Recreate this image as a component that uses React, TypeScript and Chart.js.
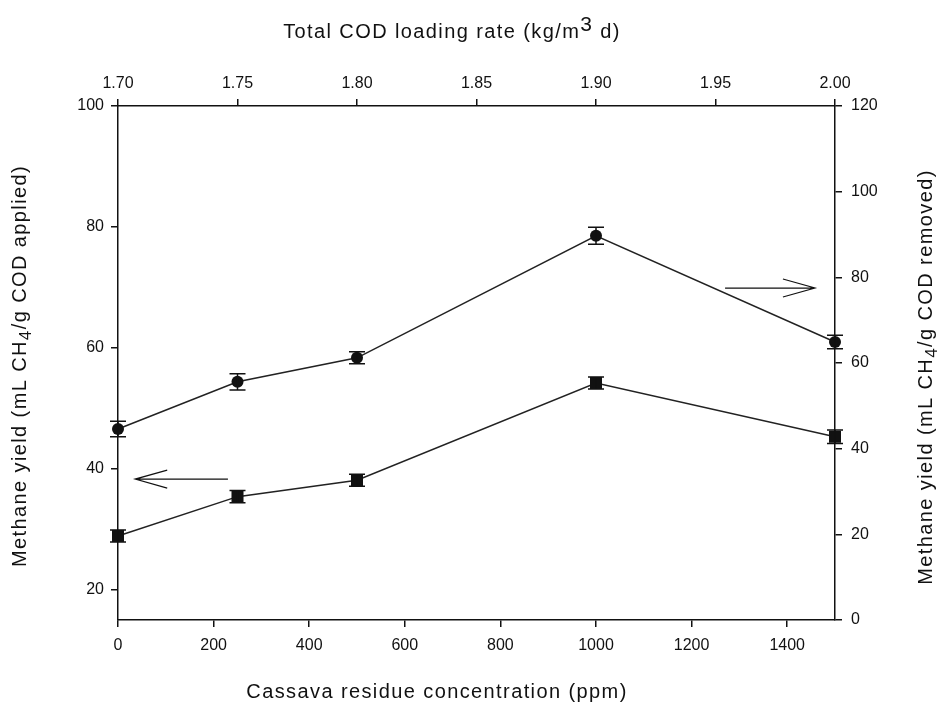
import React, { useEffect, useRef } from "react";
import { Chart, registerables } from "chart.js";

Chart.register(...registerables);

// ---- data ----
const concentrations = [0, 250, 500, 1000, 1500];
// lower series (squares) – left axis, mL CH4/g COD applied
const yieldApplied = [28.9, 35.4, 38.1, 54.2, 45.3];
const yieldAppliedErr = [1.0, 1.0, 1.0, 1.0, 1.1];
// upper series (circles) – right axis, mL CH4/g COD removed
const yieldRemoved = [44.6, 55.6, 61.2, 89.7, 64.9];
const yieldRemovedErr = [1.8, 1.9, 1.4, 2.0, 1.6];

const bottomTicks = [0, 200, 400, 600, 800, 1000, 1200, 1400];
const topTicks = [1.7, 1.75, 1.8, 1.85, 1.9, 1.95, 2.0];
const leftTicks = [20, 40, 60, 80, 100];
const rightTicks = [0, 20, 40, 60, 80, 100, 120];

// arrows (in data units): [x from, x to, y] and the axis they refer to
const leftArrow = { from: 230, to: 36, y: 38.3 };
const rightArrow = { from: 1270, to: 1458, y: 77.5 };

const FONT = "'Liberation Sans', Arial, sans-serif";
const INK = "#111";

type Seg = { t: string; shift?: number; scale?: number };

function drawRich(
  ctx: CanvasRenderingContext2D,
  segs: Seg[],
  cx: number,
  cy: number,
  rot: number,
  size: number,
  spacing: number
) {
  ctx.save();
  ctx.translate(cx, cy);
  ctx.rotate(rot);
  ctx.fillStyle = INK;
  ctx.textBaseline = "middle";
  ctx.textAlign = "left";
  (ctx as any).letterSpacing = `${spacing}px`;
  let total = 0;
  const widths: number[] = [];
  for (const s of segs) {
    ctx.font = `${Math.round(size * (s.scale ?? 1))}px ${FONT}`;
    const w = ctx.measureText(s.t).width;
    widths.push(w);
    total += w;
  }
  let x = -total / 2;
  segs.forEach((s, i) => {
    ctx.font = `${Math.round(size * (s.scale ?? 1))}px ${FONT}`;
    ctx.fillText(s.t, x, (s.shift ?? 0) * size);
    x += widths[i];
  });
  ctx.restore();
}

const extrasPlugin = {
  id: "extras",
  afterDatasetsDraw(chart: any) {
    const ctx: CanvasRenderingContext2D = chart.ctx;
    const { x, y, y1 } = chart.scales;
    ctx.save();
    ctx.strokeStyle = INK;
    ctx.lineWidth = 1.5;
    const cap = 8;
    const bars = (ys: number[], es: number[], sc: any) => {
      concentrations.forEach((c, i) => {
        const px = x.getPixelForValue(c);
        const top = sc.getPixelForValue(ys[i] + es[i]);
        const bot = sc.getPixelForValue(ys[i] - es[i]);
        ctx.beginPath();
        ctx.moveTo(px, top);
        ctx.lineTo(px, bot);
        ctx.moveTo(px - cap, top);
        ctx.lineTo(px + cap, top);
        ctx.moveTo(px - cap, bot);
        ctx.lineTo(px + cap, bot);
        ctx.stroke();
      });
    };
    bars(yieldApplied, yieldAppliedErr, y);
    bars(yieldRemoved, yieldRemovedErr, y1);

    // arrows
    const arrow = (a: { from: number; to: number; y: number }, sc: any) => {
      const x0 = x.getPixelForValue(a.from);
      const x1 = x.getPixelForValue(a.to);
      const py = sc.getPixelForValue(a.y);
      const dir = x1 > x0 ? 1 : -1;
      ctx.lineWidth = 1.2;
      ctx.beginPath();
      ctx.moveTo(x0, py);
      ctx.lineTo(x1, py);
      ctx.moveTo(x1 - dir * 32, py - 9);
      ctx.lineTo(x1, py);
      ctx.lineTo(x1 - dir * 32, py + 9);
      ctx.stroke();
    };
    arrow(leftArrow, y);
    arrow(rightArrow, y1);
    ctx.restore();

    // axis titles
    const size = 20;
    const sp = 1.4;
    drawRich(ctx, [{ t: "Cassava residue concentration (ppm)" }], 437, 692, 0, size, sp);
    drawRich(
      ctx,
      [{ t: "Total COD loading rate (kg/m" }, { t: "3", shift: -0.35, scale: 1.05 }, { t: " d)" }],
      452,
      32,
      0,
      size,
      sp
    );
    drawRich(
      ctx,
      [{ t: "Methane yield (mL CH" }, { t: "4", shift: 0.3, scale: 0.85 }, { t: "/g COD applied)" }],
      20,
      366,
      -Math.PI / 2,
      size,
      sp
    );
    drawRich(
      ctx,
      [{ t: "Methane yield (mL CH" }, { t: "4", shift: 0.3, scale: 0.85 }, { t: "/g COD removed)" }],
      926,
      377,
      -Math.PI / 2,
      size,
      sp
    );
  },
};

const tickFont = { family: FONT, size: 16 };

function axisBase(padding: number, callback?: (v: any) => string) {
  return {
    ticks: { color: INK, font: tickFont, padding, ...(callback ? { callback } : {}) },
    grid: { drawOnChartArea: false, drawTicks: true, tickLength: 7, color: INK, lineWidth: 1.5 },
    border: { display: true, color: INK, width: 1.5 },
  };
}

export default function App() {
  const ref = useRef<HTMLCanvasElement | null>(null);
  useEffect(() => {
    document.body.style.margin = "0";
    const c = ref.current;
    if (!c) return;
    const chart = new Chart(c, {
      type: "line",
      data: {
        datasets: [
          {
            label: "applied",
            data: concentrations.map((v, i) => ({ x: v, y: yieldApplied[i] })),
            yAxisID: "y",
            xAxisID: "x",
            borderColor: "#222",
            borderWidth: 1.5,
            pointStyle: "rect",
            pointRadius: 8.5,
            pointBackgroundColor: "#111",
            pointBorderColor: "#111",
            pointBorderWidth: 0,
            tension: 0,
            clip: false,
          },
          {
            label: "removed",
            data: concentrations.map((v, i) => ({ x: v, y: yieldRemoved[i] })),
            yAxisID: "y1",
            xAxisID: "x",
            borderColor: "#222",
            borderWidth: 1.5,
            pointStyle: "circle",
            pointRadius: 6,
            pointBackgroundColor: "#111",
            pointBorderColor: "#111",
            pointBorderWidth: 0,
            tension: 0,
            clip: false,
          },
        ],
      },
      options: {
        responsive: false,
        animation: false,
        layout: { padding: 0 },
        plugins: { legend: { display: false }, tooltip: { enabled: false }, title: { display: false } },
        scales: {
          x: {
            type: "linear",
            position: "bottom",
            min: 0,
            max: 1500,
            ...axisBase(9, (v: any) => String(v)),
            afterBuildTicks: (s: any) => {
              s.ticks = bottomTicks.map((v) => ({ value: v }));
            },
            afterFit: (s: any) => {
              s.height = 92;
            },
          },
          x2: {
            type: "linear",
            position: "top",
            display: true,
            min: 1.7,
            max: 2.0,
            ...axisBase(6, (v: any) => Number(v).toFixed(2)),
            afterBuildTicks: (s: any) => {
              s.ticks = topTicks.map((v) => ({ value: v }));
            },
            afterFit: (s: any) => {
              s.height = 106;
            },
          },
          y: {
            type: "linear",
            position: "left",
            min: 15,
            max: 100,
            ...axisBase(7, (v: any) => String(v)),
            afterBuildTicks: (s: any) => {
              s.ticks = leftTicks.map((v) => ({ value: v }));
            },
            afterFit: (s: any) => {
              s.width = 118;
            },
          },
          y1: {
            type: "linear",
            position: "right",
            min: 0,
            max: 120,
            ...axisBase(9, (v: any) => String(v)),
            afterBuildTicks: (s: any) => {
              s.ticks = rightTicks.map((v) => ({ value: v }));
            },
            afterFit: (s: any) => {
              s.width = 105;
            },
          },
        },
      },
      plugins: [extrasPlugin],
    } as any);
    return () => chart.destroy();
  }, []);
  return (
    <div style={{ width: 940, height: 712 }}>
      <canvas ref={ref} width={940} height={712} style={{ display: "block" }} />
    </div>
  );
}
